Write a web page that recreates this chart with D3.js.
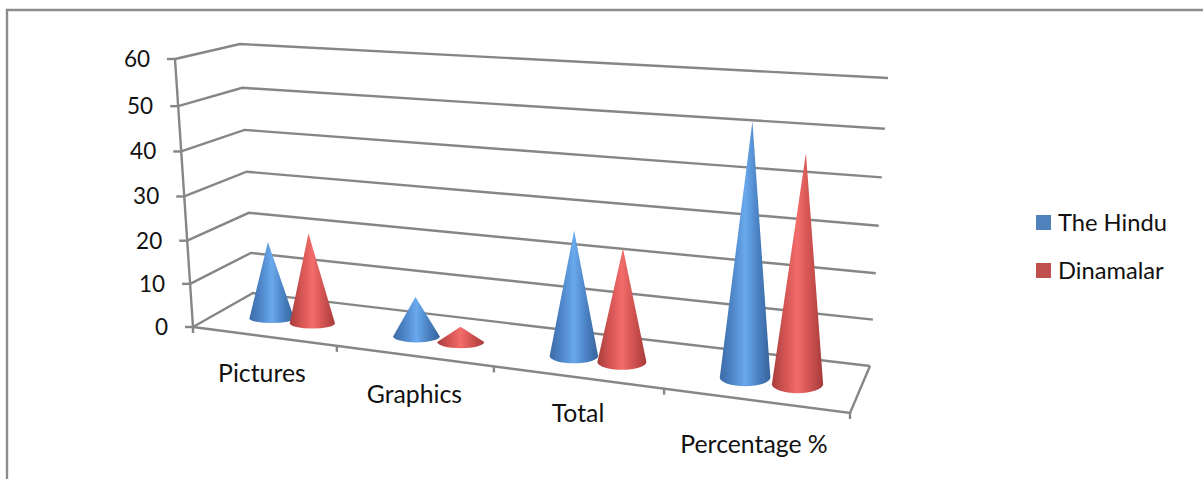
<!DOCTYPE html>
<html>
<head>
<meta charset="utf-8">
<style>
  html, body { margin: 0; padding: 0; background: #fff; }
  svg { display: block; }
  text { font-family: Lato, "Open Sans", sans-serif; fill: #111; }
</style>
<script src="https://cdn.jsdelivr.net/npm/d3@7"></script>
</head>
<body>
<svg id="chart" width="1203" height="479"></svg>
<script>
const categories = ["Pictures", "Graphics", "Total", "Percentage %"];
const seriesNames = ["The Hindu", "Dinamalar"];
const theHindu = [18, 9, 27.5, 53];
const dinamalar = [21, 3.4, 24.7, 47.5];
const valueTicks = [0, 10, 20, 30, 40, 50, 60];

const svg = d3.select("#chart");
const gridColor = "#868686";

// Corners of the 3D plot box on screen
const box = {
  floorFrontLeft: [193, 327], floorFrontRight: [850, 413],
  floorBackLeft: [253, 293], floorBackRight: [870, 366],
  topFrontLeft: [175, 59], topFrontRight: [860, 104],
  topBackLeft: [240, 44], topBackRight: [888, 78]
};

// Category position to fraction of floor width (foreshortened toward the left)
const catScale = d3.scaleLinear().domain([0, 1, 2, 3, 4]).range([0, 0.219, 0.458, 0.717, 1]);
// Value to fraction of wall height (spacing widens slightly with height)
const valueScale = d3.scaleLinear().domain(valueTicks).range([0, 0.161, 0.322, 0.487, 0.655, 0.824, 1]);

const mix = (a, b, f) => [a[0] + (b[0] - a[0]) * f, a[1] + (b[1] - a[1]) * f];

// t: along the categories, d: depth from front to back, v: data value
function project(t, d, v) {
  const floor = mix(mix(box.floorFrontLeft, box.floorFrontRight, t),
                    mix(box.floorBackLeft, box.floorBackRight, t), d);
  const top = mix(mix(box.topFrontLeft, box.topFrontRight, t),
                  mix(box.topBackLeft, box.topBackRight, t), d);
  return mix(floor, top, valueScale(v));
}

const line = d3.line();

// Chart frame: only the top and left edges fall inside the page
svg.append("path")
  .attr("d", line([[7, 479], [7, 10], [1203, 10]]))
  .attr("fill", "none").attr("stroke", "#8c8c8c").attr("stroke-width", 2.4);

const grid = svg.append("g").attr("fill", "none").attr("stroke", gridColor).attr("stroke-width", 2.4);

// Wall gridlines running around the left and back walls
valueTicks.forEach(v => {
  grid.append("path").attr("d", line([project(0, 0, v), project(0, 1, v), project(1, 1, v)]));
  const p = project(0, 0, v);
  grid.append("path").attr("d", line([[p[0] - 8, p[1]], p]));
});

// Value axis and floor outline
grid.append("path").attr("d", line([project(0, 0, 0), project(0, 0, 60)]));
grid.append("path").attr("d", line([project(0, 0, 0), project(1, 0, 0), project(1, 1, 0)]));

// Category tick marks below the front floor edge
d3.range(0, 5).forEach(i => {
  const p = project(catScale(i), 0, 0);
  grid.append("path").attr("d", line([p, [p[0], p[1] + 6]]));
});

// Value labels
svg.append("g").selectAll("text").data(valueTicks).join("text")
  .attr("x", d => project(0, 0, d)[0] - 25)
  .attr("y", d => project(0, 0, d)[1])
  .attr("dy", "0.35em")
  .attr("text-anchor", "end")
  .attr("font-size", 22.5)
  .text(d => d);

// Category labels hang below the slanted front edge
const catLabelOffset = [[-3, 37], [-1, 38], [-1, 36], [-3, 43]];
svg.append("g").selectAll("text").data(categories).join("text")
  .attr("x", (d, i) => project(catScale(i + 0.5), 0, 0)[0] + catLabelOffset[i][0])
  .attr("y", (d, i) => project(catScale(i + 0.5), 0, 0)[1] + catLabelOffset[i][1])
  .attr("dy", "0.35em")
  .attr("text-anchor", "middle")
  .attr("font-size", 24.8)
  .text(d => d);

// Horizontal shading for the cone surfaces
const defs = svg.append("defs");
const ramps = [
  { id: "coneBlue", stops: ["#3c6aa6", "#4e86c9", "#69a9ec", "#4b82c4", "#36649c"] },
  { id: "coneRed", stops: ["#a83d3c", "#d25453", "#f26c6a", "#cf5250", "#a53b3a"] }
];
ramps.forEach(r => {
  const g = defs.append("linearGradient").attr("id", r.id);
  r.stops.forEach((c, i) => g.append("stop").attr("offset", i / 4 * 100 + "%").attr("stop-color", c));
});

const coneDepth = 0.45;
const seriesOffset = [-0.13, 0.16];

function conePath(t, value) {
  const base = project(t, coneDepth, 0);
  const apex = project(t, coneDepth, value);
  const rx = 22 + 4 * t;
  const ry = 4.5 + 5 * t;
  return `M${apex[0]},${apex[1]}L${base[0] - rx},${base[1]}` +
         `A${rx},${ry} 0 0 0 ${base[0] + rx},${base[1]}Z`;
}

// Cones, one series at a time so the second overlaps the first
[theHindu, dinamalar].forEach((values, s) => {
  svg.append("g").selectAll("path").data(values).join("path")
    .attr("d", (v, i) => conePath(catScale(i + 0.5 + seriesOffset[s]), v))
    .attr("fill", `url(#${ramps[s].id})`);
});

// Legend
const legendColors = ["#4f81bd", "#c0504d"];
const legend = svg.append("g").selectAll("g").data(seriesNames).join("g")
  .attr("transform", (d, i) => `translate(1036,${215 + i * 48})`);
legend.append("rect").attr("width", 15).attr("height", 15).attr("fill", (d, i) => legendColors[i]);
legend.append("text").attr("x", 22).attr("y", 7.5).attr("dy", "0.35em").attr("font-size", 23.7).text(d => d);
</script>
</body>
</html>
